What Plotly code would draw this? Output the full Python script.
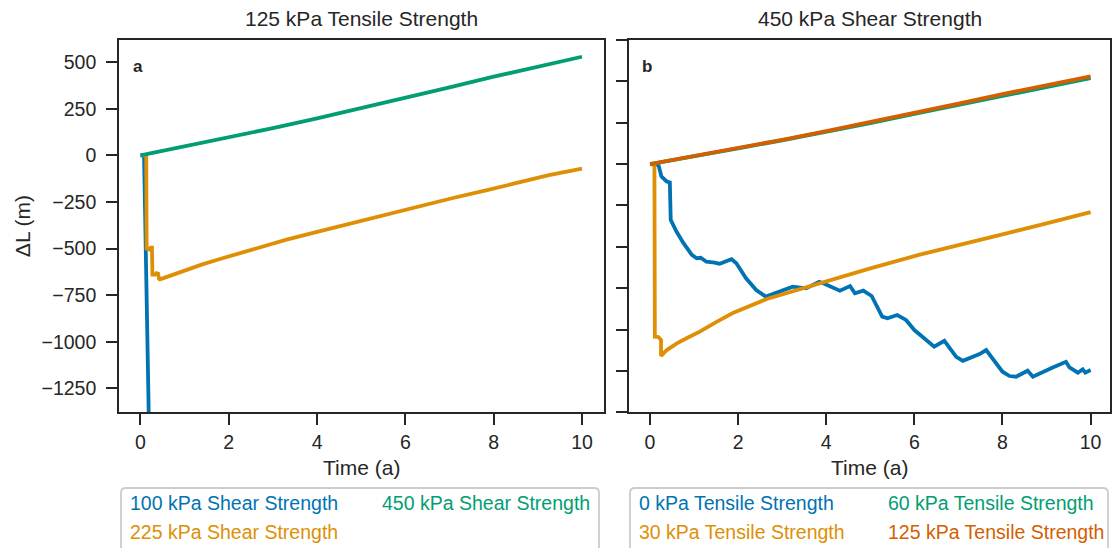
import plotly.graph_objects as go

W, H = 1114, 548
FONT = "Liberation Sans, Arial, sans-serif"
INK = "#262626"

# ---------------- data ----------------
panel_titles = ["125 kPa Tensile Strength", "450 kPa Shear Strength"]
panel_letters = ["a", "b"]
x_label = "Time (a)"
y_label = "ΔL (m)"

colors = ["#0173b2", "#de8f05", "#029e73", "#d55e00"]

# Panel a (125 kPa tensile strength), series by shear strength
a_names = ["100 kPa Shear Strength", "225 kPa Shear Strength", "450 kPa Shear Strength"]
a_100_t = [0, 0.08, 0.10, 0.12, 0.14, 0.16, 0.18, 0.20]
a_100_v = [0, 0, -250, -600, -880, -1050, -1300, -1600]
a_225_t = [0, 0.13, 0.14, 0.20, 0.23, 0.26, 0.27, 0.33, 0.36, 0.40, 0.42, 0.44,
           0.60, 0.80, 1.05, 1.40, 1.80, 2.5, 3.31, 4.0, 4.83, 5.6, 6.34, 7.1,
           7.85, 8.5, 9.10, 9.25, 10.0]
a_225_v = [0, 0, -500, -505, -495, -495, -640, -640, -632, -635, -662, -665,
           -652, -634, -612, -585, -556, -506, -452, -410, -360, -314, -270, -227,
           -186, -151, -119, -106, -71]
a_450_t = [0, 1, 2, 3, 4, 5, 6, 7, 8, 9, 10]
a_450_v = [0, 48, 97, 147, 199, 253, 310, 366, 423, 478, 530]

# Panel b (450 kPa shear strength), series by tensile strength
b_names = ["0 kPa Tensile Strength", "30 kPa Tensile Strength",
           "60 kPa Tensile Strength", "125 kPa Tensile Strength"]
b_0_t = [0, 0.10, 0.19, 0.26, 0.38, 0.45, 0.47, 0.60, 0.76, 0.95, 1.06, 1.15, 1.28,
         1.47, 1.58, 1.85, 1.96, 2.18, 2.41, 2.63, 2.93, 3.24, 3.54, 3.84, 3.93,
         4.16, 4.31, 4.54, 4.65, 4.84, 5.03, 5.27, 5.39, 5.61, 5.81, 6.00, 6.26,
         6.45, 6.68, 6.95, 7.10, 7.48, 7.63, 8.00, 8.16, 8.31, 8.57, 8.69, 9.14,
         9.44, 9.52, 9.71, 9.82, 9.88, 10.0]
b_0_v = [0, 0, -4, -75, -105, -111, -337, -408, -478, -549, -569, -566, -590,
         -596, -603, -575, -599, -690, -761, -801, -771, -741, -751, -711, -720,
         -751, -765, -737, -781, -765, -797, -922, -932, -912, -942, -1003, -1059,
         -1104, -1068, -1165, -1189, -1148, -1124, -1255, -1281, -1285, -1249, -1285, -1229,
         -1195, -1229, -1261, -1241, -1261, -1245]
b_30_t = [0, 0.10, 0.11, 0.19, 0.25, 0.25, 0.38, 0.49, 0.61, 0.85, 1.13, 1.5, 1.88, 2.65,
          3.40, 4.15, 5.0, 6.10, 6.58, 7.0, 8.0, 9.0, 10.0]
b_30_v = [0, 0, -1043, -1045, -1063, -1160, -1124, -1104, -1084, -1050, -1013, -955, -900, -815,
          -755, -694, -630, -549, -519, -491, -425, -358, -290]
b_60_t = [0, 1, 2, 3, 4, 5, 6, 7, 8, 9, 10]
b_60_v = [0, 46, 95, 144, 195, 248, 304, 359, 415, 468, 520]
b_125_t = [0, 1, 2, 3, 4, 5, 6, 7, 8, 9, 10]
b_125_v = [0, 48, 97, 147, 199, 253, 310, 366, 423, 478, 530]

a_series = [(a_100_t, a_100_v), (a_225_t, a_225_v), (a_450_t, a_450_v)]
b_series = [(b_0_t, b_0_v), (b_30_t, b_30_v), (b_60_t, b_60_v), (b_125_t, b_125_v)]

x_ticks = [0, 2, 4, 6, 8, 10]
a_y_ticks = [500, 250, 0, -250, -500, -750, -1000, -1250]


def X(px):
    return px / W


def Y(py):
    return 1 - py / H


fig = go.Figure()

for (t, v), name, col in zip(a_series, a_names, colors[:3]):
    fig.add_trace(go.Scatter(x=t, y=v, mode="lines", name=name,
                             line=dict(color=col, width=3.8),
                             xaxis="x", yaxis="y", showlegend=False))
for (t, v), name, col in zip(b_series, b_names, colors):
    fig.add_trace(go.Scatter(x=t, y=v, mode="lines", name=name,
                             line=dict(color=col, width=3.8),
                             xaxis="x2", yaxis="y2", showlegend=False))

axis_common = dict(showline=True, mirror=True, linecolor=INK, linewidth=2.2,
                   ticks="outside", ticklen=11, tickwidth=2.2, tickcolor=INK,
                   showgrid=False, zeroline=False,
                   tickfont=dict(family=FONT, size=19.5, color=INK))

fig.update_layout(
    width=W, height=H,
    margin=dict(l=0, r=0, t=0, b=0),
    paper_bgcolor="white", plot_bgcolor="white",
    showlegend=False,
    xaxis=dict(domain=[X(119.3), X(604.3)], range=[-0.48, 10.505],
               tickvals=x_ticks, anchor="y", **axis_common),
    yaxis=dict(domain=[Y(412.3), Y(40)], range=[-1379, 620],
               tickvals=a_y_ticks, anchor="x", ticklabelstandoff=6, **axis_common),
    xaxis2=dict(domain=[X(629), X(1110)], range=[-0.477, 10.44],
                tickvals=x_ticks, anchor="y2", **axis_common),
    yaxis2=dict(domain=[Y(412.3), Y(40)], range=[-1500.3, 750.3],
                tick0=0, dtick=250, anchor="x2", showticklabels=False, **axis_common),
)

ann = []


def add_text(px, py, text, size, color=INK, xanchor="center", angle=0):
    ann.append(dict(xref="paper", yref="paper", x=X(px), y=Y(py), text=text,
                    showarrow=False, xanchor=xanchor, yanchor="middle",
                    textangle=angle,
                    font=dict(family=FONT, size=size, color=color)))


# panel titles and x labels
for cx, title in zip([(119.3 + 604.3) / 2, (629 + 1110) / 2], panel_titles):
    add_text(cx, 18, title, 21)
    add_text(cx, 467, x_label, 21)
# panel letters
for px, letter in zip([138, 647], panel_letters):
    add_text(px, 66, "<b>%s</b>" % letter, 17)
# y label
add_text(22, (40 + 412.3) / 2, y_label, 21, angle=-90)


# legends (column-major, 2 columns)
def legend_items(names, cols, x_cols, rows_y):
    n = len(names)
    per_col = (n + 1) // 2
    for i, (nm, c) in enumerate(zip(names, cols)):
        col_i, row_i = divmod(i, per_col)
        add_text(x_cols[col_i], rows_y[row_i], nm, 19.5, color=c, xanchor="left")


legend_items(a_names, colors[:3], [128, 380], [503, 532])
legend_items(b_names, colors, [637, 886], [503, 532])
fig.update_layout(annotations=ann)


def rounded_box(x0, y0, x1, y1, r=5):
    rx, ry = r / W, r / H
    X0, X1, Y0, Y1 = X(x0), X(x1), Y(y0), Y(y1)
    return (f"M {X0},{Y1} L {X0},{Y0 - ry} Q {X0},{Y0} {X0 + rx},{Y0} "
            f"L {X1 - rx},{Y0} Q {X1},{Y0} {X1},{Y0 - ry} L {X1},{Y1}")


shapes = []
for x0, x1 in [(121, 599), (630, 1108)]:
    shapes.append(dict(type="path", xref="paper", yref="paper",
                       path=rounded_box(x0, 488, x1, 570),
                       line=dict(color="#cccccc", width=1.8)))
fig.update_layout(shapes=shapes)

fig.write_html("out.html")
